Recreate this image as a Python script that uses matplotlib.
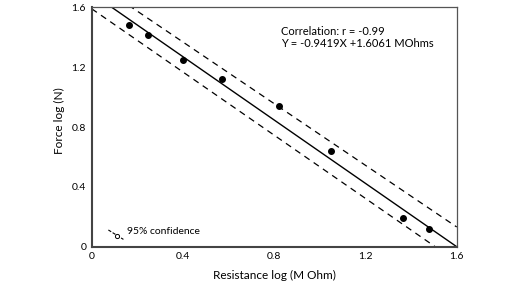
import numpy as np
import matplotlib.pyplot as plt

plt.rcParams['font.family'] = ['Lato', 'DejaVu Sans']

# DATA
resistance_log = [0.163, 0.245, 0.40, 0.572, 0.822, 1.05, 1.363, 1.48]
force_log = [1.48, 1.415, 1.245, 1.12, 0.94, 0.64, 0.19, 0.117]

fit_slope, fit_intercept = -1.058, 1.693
upper_slope, upper_intercept = -1.030, 1.780
lower_slope, lower_intercept = -1.056, 1.590

ticks = [0, 0.4, 0.8, 1.2, 1.6]
tick_labels = ['0', '0.4', '0.8', '1.2', '1.6']

# FIGURE
fig = plt.figure(figsize=(5.28, 2.92), dpi=100)
ax = fig.add_axes([0.1737, 0.155, 0.6913, 0.82])

xs = np.linspace(0, 1.6, 200)
ax.plot(xs, fit_slope * xs + fit_intercept, color='black', lw=1.0)
ax.plot(xs, upper_slope * xs + upper_intercept, color='black', lw=0.9,
        dashes=(5, 4))
ax.plot(xs, lower_slope * xs + lower_intercept, color='black', lw=0.9,
        dashes=(5, 4))
ax.plot(resistance_log, force_log, 'o', color='black', ms=4)

ax.text(0.83, 1.44, 'Correlation: r = -0.99', fontsize=8, va='center')
ax.text(0.83, 1.36, 'Y = -0.9419X +1.6061 MOhms', fontsize=8, va='center')

# legend glyph
ax.plot([0.073, 0.139], [0.112, 0.049], color='black', lw=0.8, dashes=(3, 1.5))
ax.plot([0.109], [0.074], 'o', mfc='white', mec='black', ms=3, mew=0.7)
ax.text(0.156, 0.10, '95% confidence', fontsize=7.5, va='center')

ax.set_xlim(0, 1.6)
ax.set_ylim(0, 1.6)
ax.set_xticks(ticks)
ax.set_xticklabels(tick_labels)
ax.set_yticks(ticks)
ax.set_yticklabels(tick_labels)
ax.tick_params(length=0, labelsize=7.5, pad=4)
ax.set_xlabel('Resistance log (M Ohm)', fontsize=8.5, labelpad=6)
ax.set_ylabel('Force log (N)', fontsize=8.5)
ax.yaxis.set_label_coords(-0.073, 0.525)

for s in ['left', 'bottom']:
    ax.spines[s].set_linewidth(1.5)
    ax.spines[s].set_color('#444444')
for s in ['top', 'right']:
    ax.spines[s].set_linewidth(0.9)
    ax.spines[s].set_color('#555555')

fig.savefig('out.png', dpi=100)
